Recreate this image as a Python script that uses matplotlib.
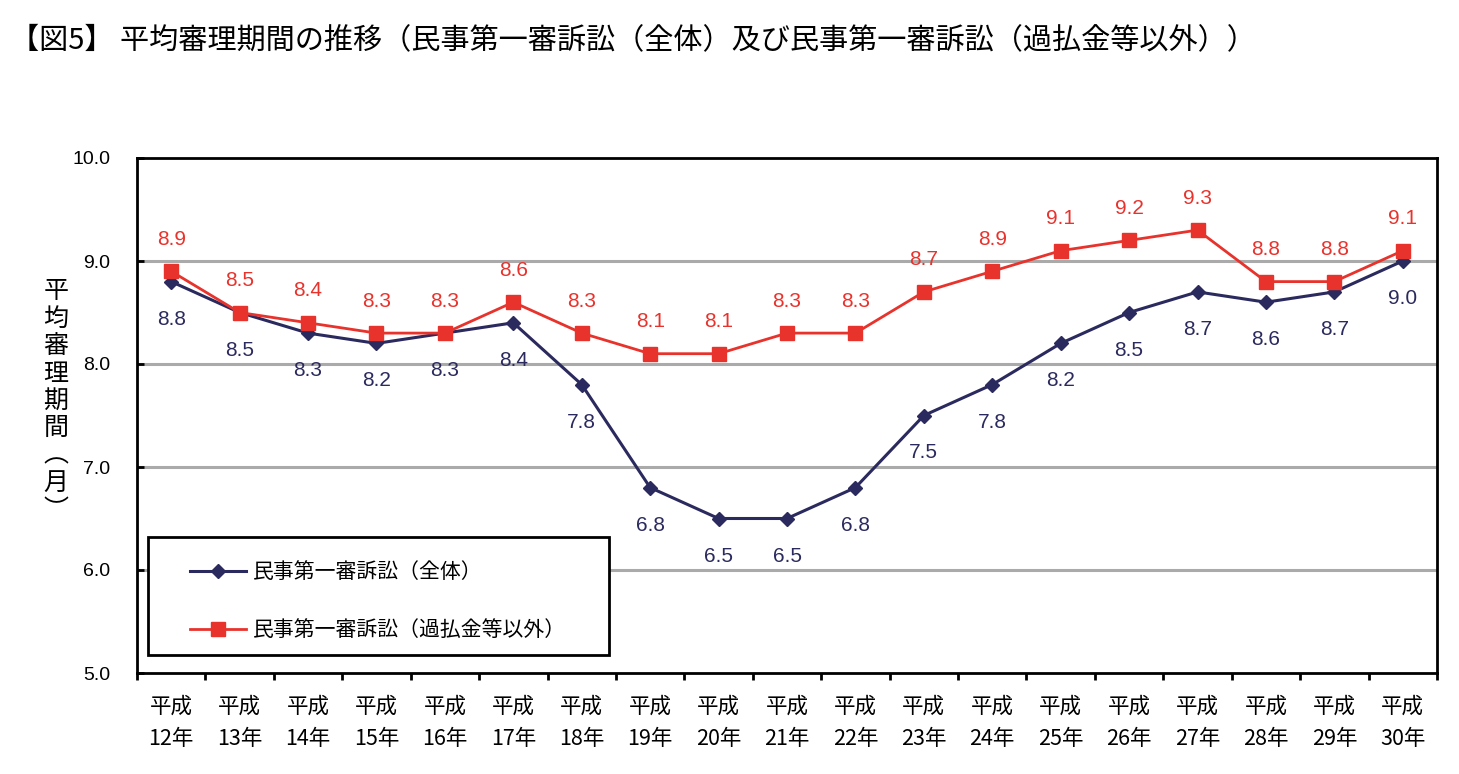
import numpy as np
import matplotlib.pyplot as plt
from matplotlib.patches import Rectangle

plt.rcParams['font.family'] = ['Liberation Sans', 'Noto Sans CJK JP', 'DejaVu Sans']

years = ['平成\n12年', '平成\n13年', '平成\n14年', '平成\n15年', '平成\n16年', '平成\n17年',
         '平成\n18年', '平成\n19年', '平成\n20年', '平成\n21年', '平成\n22年', '平成\n23年',
         '平成\n24年', '平成\n25年', '平成\n26年', '平成\n27年', '平成\n28年', '平成\n29年',
         '平成\n30年']
zentai = [8.8, 8.5, 8.3, 8.2, 8.3, 8.4, 7.8, 6.8, 6.5, 6.5, 6.8, 7.5, 7.8, 8.2, 8.5, 8.7, 8.6, 8.7, 9.0]
igai = [8.9, 8.5, 8.4, 8.3, 8.3, 8.6, 8.3, 8.1, 8.1, 8.3, 8.3, 8.7, 8.9, 9.1, 9.2, 9.3, 8.8, 8.8, 9.1]
name_zentai = '民事第一審訴訟（全体）'
name_igai = '民事第一審訴訟（過払金等以外）'

navy = '#2b2a5e'
red = '#e8322c'
cjk = ['Noto Sans CJK JP', 'DejaVu Sans']

fig = plt.figure(figsize=(14.59, 7.74), dpi=100)
ax = fig.add_axes([137/1459, 1-673/774, 1300/1459, 515/774])

x = np.arange(len(years))
ax.plot(x, zentai, color=navy, lw=2.2, marker='D', ms=7, label=name_zentai, zorder=3)
ax.plot(x, igai, color=red, lw=2.0, marker='s', ms=10, label=name_igai, zorder=4)

for i in range(len(x)):
    ax.annotate(f'{zentai[i]:.1f}', (x[i], zentai[i]), xytext=(0, -27), textcoords='offset points',
                ha='center', va='center', fontsize=15, color=navy)
    ax.annotate(f'{igai[i]:.1f}', (x[i], igai[i]), xytext=(0, 23), textcoords='offset points',
                ha='center', va='center', fontsize=15, color=red)

ax.set_xlim(-0.5, len(years) - 0.5)
ax.set_ylim(5, 10)
ax.set_yticks([5, 6, 7, 8, 9, 10])
ax.set_yticklabels(['5.0', '6.0', '7.0', '8.0', '9.0', '10.0'], fontsize=14)
for yv in [6, 7, 8, 9]:
    ax.axhline(yv, color='#aaaaaa', lw=2.2, zorder=1)
ax.tick_params(axis='y', direction='in', length=5, width=2, pad=19)

ax.set_xticks(x)
ax.set_xticklabels(years, fontsize=15.5, family=cjk, linespacing=1.65)
ax.set_xticks(np.arange(len(years) + 1) - 0.5, minor=True)
ax.tick_params(axis='x', which='major', length=0, pad=16)
ax.tick_params(axis='x', which='minor', direction='out', length=5, width=2)
for s in ax.spines.values():
    s.set_linewidth(2)

# legend box
box = Rectangle((11/1300, 18/515), 461/1300, 118/515, transform=ax.transAxes,
                facecolor='white', edgecolor='black', lw=2, zorder=5)
ax.add_patch(box)
leg = ax.legend(loc='upper left', bbox_to_anchor=(53/1300, 112/515),
                prop={'family': cjk, 'size': 15}, frameon=False, borderpad=0,
                labelspacing=1.75, handlelength=2.7, handletextpad=0.3, borderaxespad=0)
leg.set_zorder(6)

fig.text(56/1459, 1-401/774, '平\n均\n審\n理\n期\n間\n︵\n月\n︶', ha='center', va='center',
         fontsize=18, family=cjk, linespacing=1.07)
fig.text(10/1459, 1-40/774, '【図5】 平均審理期間の推移（民事第一審訴訟（全体）及び民事第一審訴訟（過払金等以外））',
         ha='left', va='center', fontsize=21, family=cjk)

fig.savefig('out.png', dpi=100)
